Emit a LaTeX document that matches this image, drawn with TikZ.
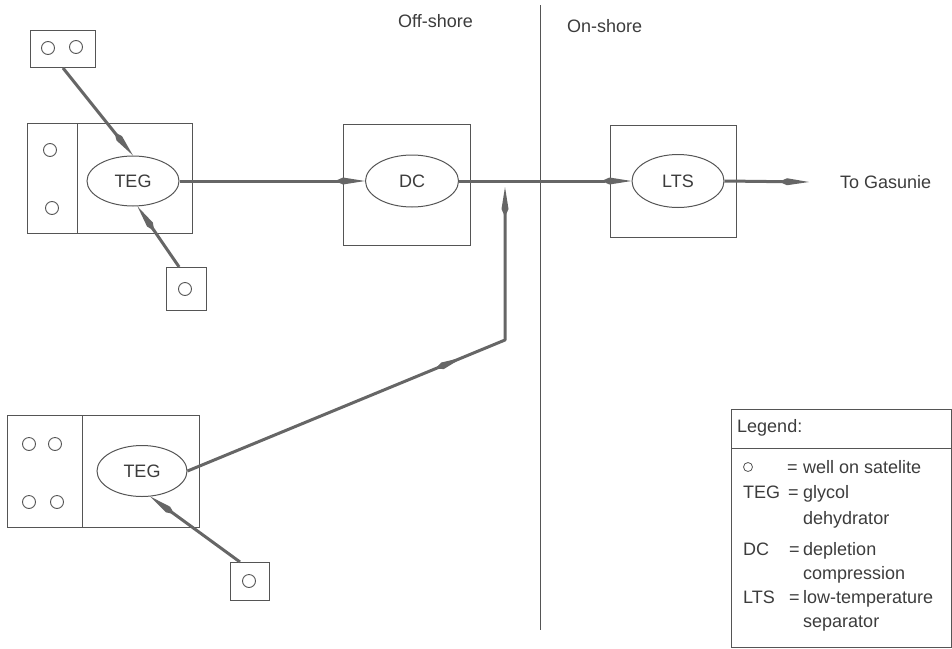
\documentclass[tikz,border=0pt]{standalone}
\usepackage{fontspec}
\setmainfont{Liberation Sans}
\usetikzlibrary{shapes.geometric,arrows.meta,decorations.markings,calc}
\definecolor{linegray}{HTML}{555555}
\definecolor{pipegray}{HTML}{666666}
\definecolor{txt}{HTML}{3C3C3C}
\tikzset{
  box/.style={draw=linegray, line width=1pt, inner sep=0pt, anchor=north west},
  well/.style={circle, draw=linegray, line width=0.9pt, minimum size=13pt, inner sep=0pt},
  unit/.style={ellipse, draw=linegray, line width=1pt, inner sep=0pt, text=txt, font=\fontsize{18}{20}\selectfont},
  pipe/.style={draw=pipegray, color=pipegray, line width=3pt, line join=round, -{Kite[length=30pt,width=7pt,inset=8pt]}},
  midkite/.style={postaction={decorate,decoration={markings,mark=at position #1 with {\arrow{Kite[length=30pt,width=7pt,inset=8pt]}}}}},
  lbl/.style={inner sep=0pt, text=txt, font=\fontsize{18}{20}\selectfont},
  plain/.style={draw=linegray, line width=1pt}
}
\begin{document}
\begin{tikzpicture}[x=1pt,y=-1pt]
\useasboundingbox (0,0) rectangle (952,648);
% divider and region labels
\coordinate (vtop) at (540,5);
\coordinate (vbot) at (540,630);
\draw[plain] (vtop) -- (vbot);
\node[lbl, anchor=base west] (off) at (398,27) {Off-shore};
\node[lbl, anchor=base west] (on) at (567,32) {On-shore};

% top satellite with two wells
\node[box, minimum width=65pt, minimum height=37pt] (s1) at (30,30) {};
\node[well] (w1) at (48,48) {};
\node[well] (w2) at (76,47) {};

% first TEG platform
\node[box, minimum width=165pt, minimum height=110pt] (p1) at (27,123) {};
\coordinate (p1dt) at (77,123);
\coordinate (p1db) at (77,233);
\draw[plain] (p1dt) -- (p1db);
\node[well] (w3) at (50,150) {};
\node[well] (w4) at (52,208) {};
\node[unit, minimum width=92pt, minimum height=50pt] (teg1) at (133,181) {TEG};

% satellite below first TEG
\node[box, minimum width=40pt, minimum height=43pt] (s2) at (166,267) {};
\node[well] (w5) at (185,289) {};

% DC platform
\node[box, minimum width=127pt, minimum height=121pt] (dcbox) at (343,124) {};
\node[unit, minimum width=93pt, minimum height=52pt] (dc) at (412,181) {DC};

% LTS
\node[box, minimum width=126pt, minimum height=112pt] (ltsbox) at (610,125) {};
\node[unit, minimum width=92pt, minimum height=53pt] (lts) at (678,181) {LTS};
\coordinate (gas) at (809,182);
\node[lbl, anchor=west] (gasunie) at (840,182) {To Gasunie};

% second TEG platform
\node[box, minimum width=192pt, minimum height=112pt] (p2) at (7,415) {};
\coordinate (p2dt) at (82,415);
\coordinate (p2db) at (82,527);
\draw[plain] (p2dt) -- (p2db);
\node[well] (w6) at (29,444) {};
\node[well] (w7) at (55,444) {};
\node[well] (w8) at (29,502) {};
\node[well] (w9) at (57,502) {};
\node[unit, minimum width=90pt, minimum height=51pt] (teg2) at (142,471) {TEG};

% satellite below second TEG
\node[box, minimum width=39pt, minimum height=38pt] (s3) at (230,562) {};
\node[well] (w10) at (249,581) {};

% pipelines
\coordinate (j) at (505,340);
\coordinate (jt) at (505,187);
\draw[pipe] (s1.south) -- (teg1.north);
\draw[pipe] ($(s2.north west)!0.32!(s2.north east)$) -- (teg1.-80);
\draw[pipe] (teg1.east) -- (dc.west);
\draw[pipe] (dc.east) -- (lts.west);
\draw[pipe] (lts.east) -- (gas);
\draw[pipe, midkite=0.6] (teg2.east) -- (j) -- (jt);
\draw[pipe] ($(s3.north west)!0.25!(s3.north east)$) -- (teg2.-72);

% legend
\node[box, minimum width=220pt, minimum height=238pt] (leg) at (731,409) {};
\coordinate (legl) at (731,448);
\coordinate (legr) at (951,448);
\draw[plain] (legl) -- (legr);
\node[lbl, anchor=base west] (legt) at (737,432) {Legend:};
\node[circle, draw=linegray, line width=0.8pt, minimum size=9pt, inner sep=0pt] (lw) at (748,467) {};
\node[lbl, anchor=base west] (e1) at (787,473) {=};
\node[lbl, anchor=base west] (d1) at (803,473) {well on satelite};
\node[lbl, anchor=base west] (k2) at (743,498) {TEG};
\node[lbl, anchor=base west] (e2) at (788,498) {=};
\node[lbl, anchor=base west] (d2) at (803,498) {glycol};
\node[lbl, anchor=base west] (d2b) at (803,524) {dehydrator};
\node[lbl, anchor=base west] (k3) at (743,555) {DC};
\node[lbl, anchor=base west] (e3) at (789,555) {=};
\node[lbl, anchor=base west] (d3) at (803,555) {depletion};
\node[lbl, anchor=base west] (d3b) at (803,579) {compression};
\node[lbl, anchor=base west] (k4) at (743,603) {LTS};
\node[lbl, anchor=base west] (e4) at (789,603) {=};
\node[lbl, anchor=base west] (d4) at (803,603) {low-temperature};
\node[lbl, anchor=base west] (d4b) at (803,627) {separator};
\end{tikzpicture}
\end{document}
